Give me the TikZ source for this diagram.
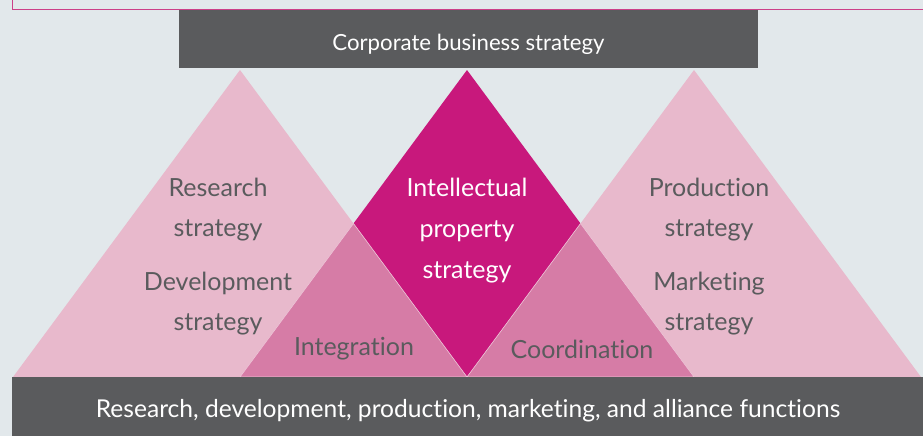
\documentclass[tikz,border=0pt]{standalone}
\usepackage{fontspec}
\setmainfont{Lato}[Ligatures={NoCommon,NoDiscretionary}]
\definecolor{bgcol}{HTML}{E2E8EB}
\definecolor{framecol}{HTML}{CC3F88}
\definecolor{barcol}{HTML}{5A5B5D}
\definecolor{lightpink}{HTML}{E8B9CC}
\definecolor{midpink}{HTML}{D67CA6}
\definecolor{magenta}{HTML}{C8187C}
\definecolor{textgray}{HTML}{5A5B5D}
\begin{document}
\begin{tikzpicture}[x=1pt,y=-1pt,
  bar/.style={fill=barcol, inner sep=0pt},
  bartext/.style={text=white, inner sep=0pt},
  lbl/.style={text=textgray, align=center, inner sep=0pt,
    font=\fontsize{25}{40}\selectfont},
  wlbl/.style={text=white, align=center, inner sep=0pt,
    font=\fontsize{25}{41}\selectfont},
  lighttri/.style={fill=lightpink},
  midtri/.style={fill=midpink, draw=white!55!midpink, line width=0.6pt, line join=miter},
]
\useasboundingbox (0,0) rectangle (923,436);
\clip (0,0) rectangle (923,436);
\fill[bgcol] (0,0) rectangle (923,436);

% frame of the panel above
\draw[framecol, line width=1pt] (12,-10) -- (12,9.5) -- (940,9.5);

% key points of the pyramid layout
\coordinate (LA) at (240,70);
\coordinate (RA) at (694,70);
\coordinate (DT) at (467,70);
\coordinate (DL) at (353.5,223.5);
\coordinate (DR) at (580.5,223.5);
\coordinate (DB) at (467,377);
\coordinate (BL) at (13,377);
\coordinate (IL) at (240,377);
\coordinate (CR) at (694,377);
\coordinate (BR) at (921,377);

% outer strategy triangles
\fill[lighttri] (BL) -- (LA) -- (DB) -- cycle;
\fill[lighttri] (DB) -- (RA) -- (BR) -- cycle;
% intellectual property diamond
\fill[magenta] (DT) -- (DR) -- (DB) -- (DL) -- cycle;
% overlap triangles
\filldraw[midtri] (DL) -- (DB) -- (IL) -- cycle;
\filldraw[midtri] (DR) -- (CR) -- (DB) -- cycle;

% top and bottom bars
\node[bar, minimum width=579pt, minimum height=58pt] (corp) at (468.5,39) {};
\node[bartext, font=\fontsize{22.2}{26}\selectfont] (corptxt) at (468.5,44)
  {Corporate business strategy};
\node[bar, minimum width=911pt, minimum height=60pt] (func) at (467.5,407) {};
\node[bartext, font=\fontsize{24.6}{28}\selectfont] (functxt) at (468,411)
  {Research, development, production, marketing, and alliance functions};

% labels
\node[lbl] (rs) at (218,210) {Research\\strategy};
\node[lbl] (ds) at (218,304) {Development\\strategy};
\node[lbl] (ps) at (709,210) {Production\\strategy};
\node[lbl] (ms) at (709,304) {Marketing\\strategy};
\node[wlbl] (ip) at (467,231) {Intellectual\\property\\strategy};
\node[lbl] (integ) at (354,349) {Integration};
\node[lbl] (coord) at (582,349) {Coordination};
\end{tikzpicture}
\end{document}
